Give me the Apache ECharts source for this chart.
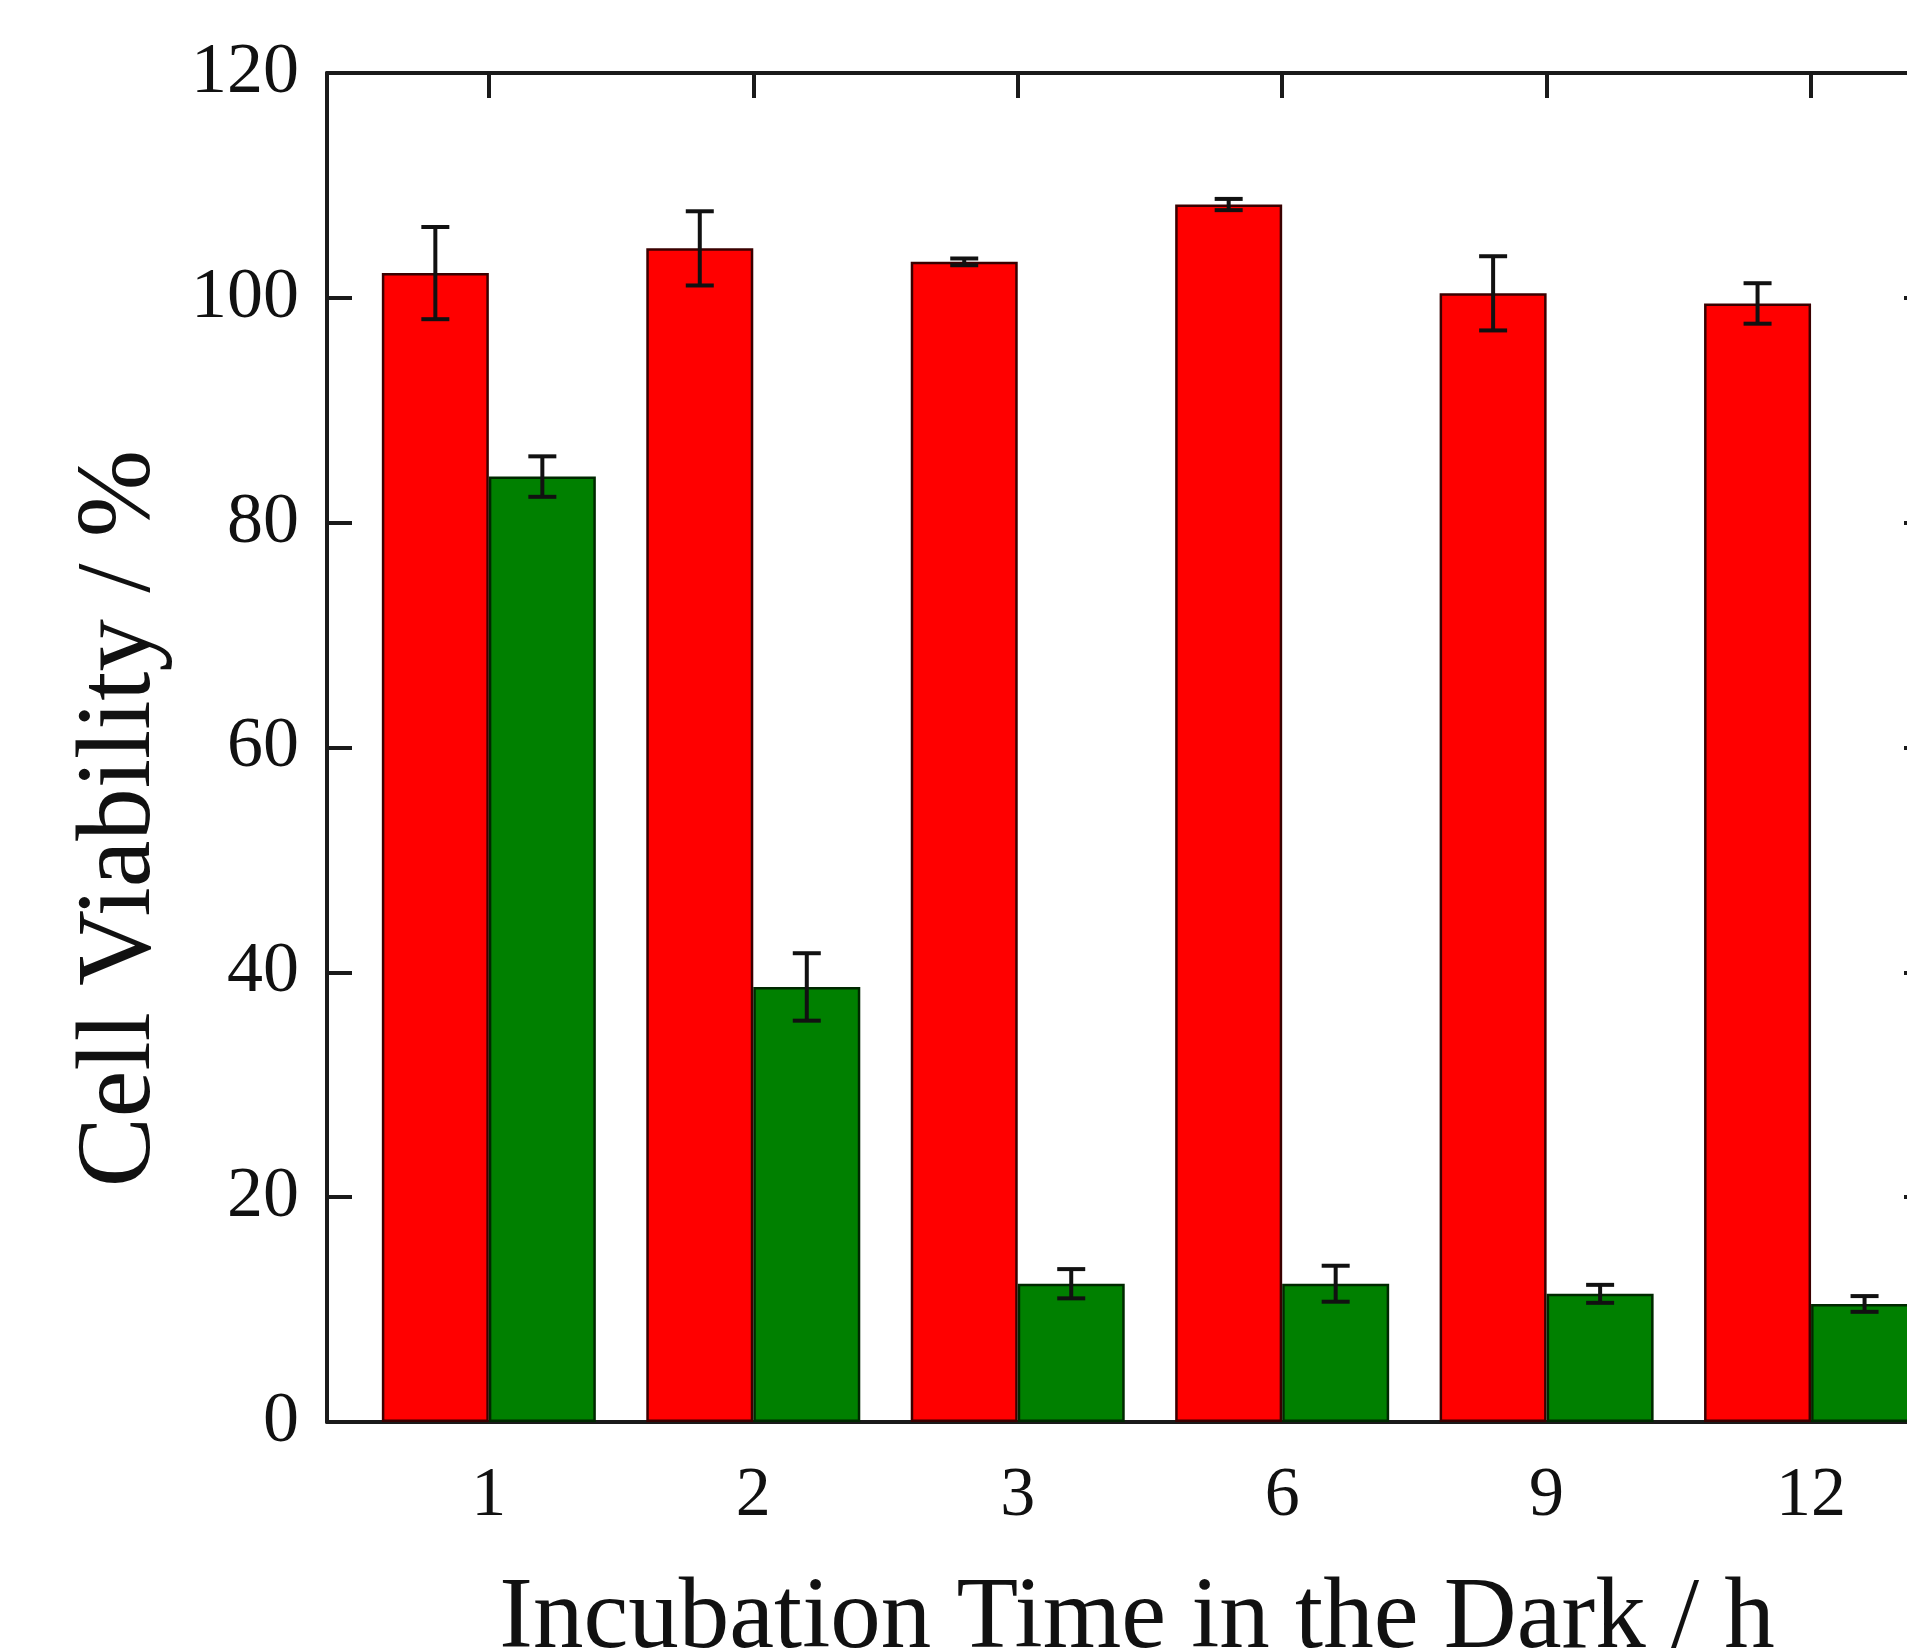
<!DOCTYPE html>
<html>
<head>
<meta charset="utf-8">
<script src="https://cdn.jsdelivr.net/npm/echarts@6/dist/echarts.min.js"></script>
<style>
html,body{margin:0;padding:0;background:#fff;}
#chart{width:1907px;height:1652px;}
</style>
</head>
<body>
<div id="chart"></div>
<script>
// ---- data ----
const categories = ['1', '2', '3', '6', '9', '12'];
const redValues = [102.2, 104.4, 103.2, 108.3, 100.4, 99.5];
const redErrors = [4.1, 3.3, 0.3, 0.5, 3.3, 1.8];
const greenValues = [84.1, 38.7, 12.3, 12.3, 11.4, 10.5];
const greenErrors = [1.8, 3.0, 1.3, 1.6, 0.8, 0.7];
const yMin = 0, yMax = 120, yStep = 20;

// ---- styling ----
const FONT = "'Liberation Serif', 'Times New Roman', serif";
const BAR_W = 107;
const AXIS_COLOR = '#1a1a1a';
const catIdx = categories.map((c, i) => i);

const redData = redValues.map((v, i) => [i, v]);
const greenData = greenValues.map((v, i) => [i, v]);
const errData = [];
redValues.forEach((v, i) => errData.push([i, v, redErrors[i], -1]));
greenValues.forEach((v, i) => errData.push([i, v, greenErrors[i], 1]));

const chart = echarts.init(document.getElementById('chart'), null, {renderer: 'canvas'});

const xCommon = {
  type: 'value',
  min: -0.612,
  max: 5.446,
  splitLine: {show: false},
  axisLine: {show: true, onZero: false, lineStyle: {color: AXIS_COLOR, width: 4}}
};
const yCommon = {
  type: 'value', min: yMin, max: yMax, interval: yStep,
  splitLine: {show: false},
  axisLine: {show: true, onZero: false, lineStyle: {color: AXIS_COLOR, width: 4}},
  axisTick: {show: true, inside: true, length: 25, lineStyle: {color: AXIS_COLOR, width: 4}}
};

const option = {
  backgroundColor: '#ffffff',
  animation: false,
  grid: {left: 327, right: -22, top: 73, bottom: 230, containLabel: false, outerBoundsMode: 'none'},
  xAxis: [
    Object.assign({}, xCommon, {
      position: 'bottom',
      name: 'Incubation Time in the Dark / h',
      nameLocation: 'middle',
      nameGap: 148,
      nameTextStyle: {fontFamily: FONT, fontSize: 101, color: '#111', padding: [0, 0, 0, 18]},
      axisTick: {show: false},
      axisLabel: {
        show: true,
        customValues: catIdx,
        formatter: (v) => categories[Math.round(v)],
        fontFamily: FONT, fontSize: 70, color: '#111', margin: 40
      }
    }),
    Object.assign({}, xCommon, {
      position: 'top',
      axisTick: {show: true, inside: true, length: 25, customValues: catIdx, lineStyle: {color: AXIS_COLOR, width: 4}},
      axisLabel: {show: false}
    })
  ],
  yAxis: [
    Object.assign({}, yCommon, {
      position: 'left',
      axisLabel: {fontFamily: FONT, fontSize: 72, color: '#111', margin: 28},
      name: 'Cell Viability / %',
      nameLocation: 'middle',
      nameGap: 153,
      nameTextStyle: {fontFamily: FONT, fontSize: 105, color: '#111', padding: [0, 142, 0, 0]}
    }),
    Object.assign({}, yCommon, {
      position: 'right',
      axisLabel: {show: false}
    })
  ],
  series: [
    {
      name: 'red', type: 'bar', xAxisIndex: 0, yAxisIndex: 0,
      data: redData, barWidth: BAR_W, barGap: '0%',
      itemStyle: {color: '#ff0000', borderColor: '#3a0000', borderWidth: 2.5}
    },
    {
      name: 'green', type: 'bar', xAxisIndex: 0, yAxisIndex: 0,
      data: greenData, barWidth: BAR_W, barGap: '0%',
      itemStyle: {color: '#008000', borderColor: '#002800', borderWidth: 2.5}
    },
    {
      name: 'errors', type: 'custom', xAxisIndex: 0, yAxisIndex: 0,
      data: errData, encode: {x: 0, y: 1}, z: 10,
      renderItem: function (params, api) {
        const i = api.value(0), v = api.value(1), e = api.value(2), side = api.value(3);
        const top = api.coord([i, v + e]);
        const bot = api.coord([i, v - e]);
        const x = top[0] + side * BAR_W / 2;
        const cap = 14;
        const style = {stroke: '#111', lineWidth: 4};
        return {
          type: 'group',
          children: [
            {type: 'line', shape: {x1: x, y1: top[1], x2: x, y2: bot[1]}, style: style},
            {type: 'line', shape: {x1: x - cap, y1: top[1], x2: x + cap, y2: top[1]}, style: style},
            {type: 'line', shape: {x1: x - cap, y1: bot[1], x2: x + cap, y2: bot[1]}, style: style}
          ]
        };
      }
    }
  ]
};
chart.setOption(option);
</script>
</body>
</html>
